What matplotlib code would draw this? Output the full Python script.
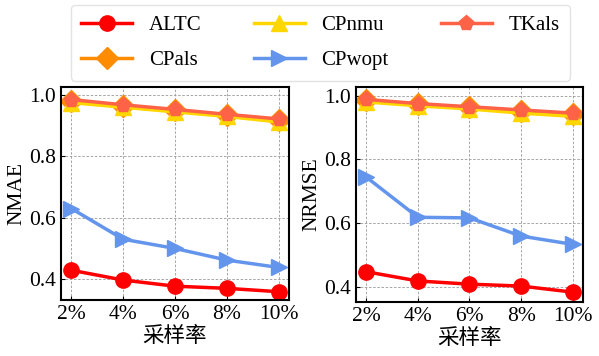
import numpy as np
import matplotlib.pyplot as plt

plt.rcParams['font.family'] = ['Liberation Serif', 'Noto Sans CJK SC']
plt.rcParams['mathtext.fontset'] = 'stix'

rates = ["2%", "4%", "6%", "8%", "10%"]
methods = ["ALTC", "CPals", "CPnmu", "CPwopt", "TKals"]

# NMAE per method
nmae_altc = [0.429, 0.397, 0.377, 0.370, 0.359]
nmae_cpals = [0.982, 0.965, 0.950, 0.935, 0.920]
nmae_cpnmu = [0.975, 0.960, 0.945, 0.930, 0.912]
nmae_cpwopt = [0.630, 0.530, 0.500, 0.462, 0.438]
nmae_tkals = [0.985, 0.968, 0.953, 0.937, 0.922]

# NRMSE per method
nrmse_altc = [0.447, 0.418, 0.408, 0.402, 0.383]
nrmse_cpals = [0.986, 0.973, 0.963, 0.953, 0.943]
nrmse_cpnmu = [0.980, 0.968, 0.958, 0.945, 0.935]
nrmse_cpwopt = [0.744, 0.618, 0.616, 0.559, 0.533]
nrmse_tkals = [0.988, 0.975, 0.965, 0.955, 0.945]

colors = ["#ff0000", "#ff8c00", "#ffd700", "#6495ed", "#ff6347"]
markers = ["o", "D", "^", ">", "p"]

x = np.arange(len(rates))

fig = plt.figure(figsize=(5.99, 3.56), dpi=100)
ax1 = fig.add_axes([61/599, 1 - 300/356, 228/599, 213/356])
ax2 = fig.add_axes([356/599, 1 - 302/356, 227/599, 215/356])


def draw(ax, series, ylabel, ylim):
    lines = []
    for vals, c, m, name in zip(series, colors, markers, methods):
        ln, = ax.plot(x, vals, color=c, marker=m, markersize=11, linewidth=2.5, label=name)
        lines.append(ln)
    ax.set_xticks(x)
    ax.set_xticklabels(rates)
    ax.set_yticks([0.4, 0.6, 0.8, 1.0])
    ax.set_ylim(*ylim)
    ax.set_xlim(-0.2, 4.2)
    ax.grid(True, color="#999999", linestyle=(0, (3, 2)), linewidth=0.6)
    ax.tick_params(direction="in", labelsize=15.5, length=3)
    ax.set_ylabel(ylabel, fontsize=15.5, labelpad=2)
    ax.set_xlabel("采样率", fontsize=15.5, labelpad=1, family=["Noto Sans CJK SC"])
    for s in ax.spines.values():
        s.set_linewidth(1.5)
    return lines


lines = draw(ax1, [nmae_altc, nmae_cpals, nmae_cpnmu, nmae_cpwopt, nmae_tkals],
             "NMAE", (0.332, 1.026))
draw(ax2, [nrmse_altc, nrmse_cpals, nrmse_cpnmu, nrmse_cpwopt, nrmse_tkals],
     "NRMSE", (0.352, 1.027))

fig.legend(handles=lines, loc="upper center", bbox_to_anchor=(0.535, 0.986), ncol=3,
           fontsize=15, frameon=True, fancybox=True, edgecolor="#dddddd",
           handlelength=2.45, columnspacing=2.5, handletextpad=0.8, labelspacing=0.75,
           borderpad=0.5, borderaxespad=0.0)

fig.savefig("out.png", dpi=100)
